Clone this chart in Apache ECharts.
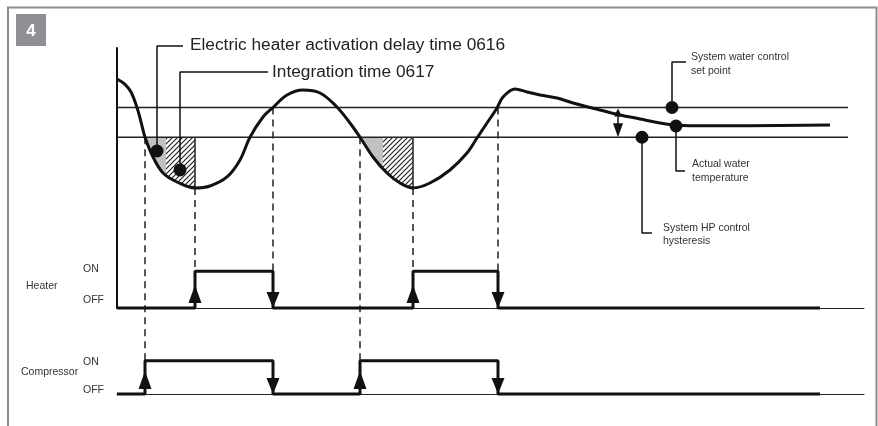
<!DOCTYPE html>
<html lang="en">
<head>
<meta charset="UTF-8">
<title>heater control</title>
<script src="https://cdn.jsdelivr.net/npm/echarts@6/dist/echarts.min.js"></script>
<style>
    html, body { margin: 0; padding: 0; background: #fff; }
    #main { width: 878px; height: 426px; }
</style>
</head>
<body>
<div id="main"></div>
<script>
// ---- data (time in s, temperature in °C, state 0 = OFF / 1 = ON) ----
var timeMax = 747;
var tempMin = 11.3, tempMax = 55;
var setPoint = 45;
var hysteresis = 5;
var lineEnd = 731;

var curveTime = [0, 8, 14, 20, 24, 28, 36, 46, 60, 78, 93, 110, 123, 133, 146, 156, 170, 186, 203, 219, 233, 243, 256, 270, 283, 296, 313, 333, 350, 360, 370, 380, 386, 398, 410, 423, 440, 456, 483, 503, 523, 543, 558, 573, 630, 713];
var curveTemp = [49.79, 48.9, 47.6, 45.0, 42.6, 40.0, 36.68, 33.99, 32.48, 31.47, 31.81, 33.32, 36.18, 40.0, 43.4, 45.0, 47.1, 47.94, 47.44, 45.25, 42.4, 40.0, 36.68, 33.99, 32.31, 31.47, 32.31, 34.5, 37.35, 39.87, 42.39, 44.92, 46.76, 48.11, 47.61, 47.1, 46.6, 45.76, 44.58, 43.74, 43.07, 42.39, 42.06, 41.95, 41.95, 42.05];

var heaterTime  = [0, 78, 78, 156, 156, 296, 296, 381, 381, 703];
var heaterState = [0, 0, 1, 1, 0, 0, 1, 1, 0, 0];
var compTime    = [0, 28, 28, 156, 156, 243, 243, 381, 381, 703];
var compState   = [0, 0, 1, 1, 0, 0, 1, 1, 0, 0];

// delay (grey) and integration (hatched) windows
var delayRanges = [[28, 49], [243, 266]];
var integRanges = [[49, 78], [266, 296]];

// dashed links: time, temperature where it starts, track it reaches (1 heater, 2 compressor)
var dashTime  = [28, 78, 156, 243, 296, 381];
var dashTemp  = [40, 31.47, 45, 40, 31.47, 45];
var dashTrack = [2, 1, 1, 2, 1, 1];

var dotPoints = [[40, 37.69], [63, 34.5], [555, 45], [559, 41.89], [525, 40]];
var leaders = [
    [[40, 37.69], [40, 55.34], [66, 55.34]],
    [[63, 34.5], [63, 50.97], [151, 50.97]],
    [[555, 45], [555, 52.65], [569, 52.65]],
    [[559, 41.89], [559, 34.33], [568, 34.33]],
    [[525, 40], [525, 23.91], [535, 23.91]]
];
var hystArrowTime = 501;

// ---- layout ----
var FONT = '"Liberation Sans", Arial, sans-serif';
var plotLeft = 117, plotTop = 48, tempHeight = 260;
var pxPerDeg = tempHeight / (tempMax - tempMin);
var lowLine = setPoint - hysteresis;

function zip(a, b) { return a.map(function (v, i) { return [v, b[i]]; }); }
var curveData = zip(curveTime, curveTemp);

function hatchCanvas() {
    var c = document.createElement('canvas');
    c.width = 5; c.height = 5;
    var g = c.getContext('2d');
    g.fillStyle = '#fff'; g.fillRect(0, 0, 5, 5);
    g.strokeStyle = '#222'; g.lineWidth = 1.2;
    g.beginPath();
    g.moveTo(-1, 6); g.lineTo(6, -1);
    g.moveTo(-1, 1); g.lineTo(1, -1);
    g.moveTo(4, 6); g.lineTo(6, 4);
    g.stroke();
    return c;
}

var grids = [
    {left: plotLeft, top: plotTop, width: timeMax, height: tempHeight},
    {left: plotLeft, top: 253, width: timeMax, height: 55},
    {left: plotLeft, top: 344, width: timeMax, height: 50}
];
var xAxes = [], yAxes = [];
function hiddenAxis(i, min, max) {
    return {gridIndex: i, type: 'value', min: min, max: max, show: false, splitLine: {show: false}};
}
function stateLabels(onPad, offPad) {
    return {
        show: true, align: 'left', margin: 34, color: '#333', fontSize: 10.5, fontFamily: FONT,
        formatter: function (v) { return v === 0 ? '{off|OFF}' : (v === 1 ? '{on|ON}' : ''); },
        rich: {
            on: {padding: onPad, fontSize: 10.5, color: '#333', fontFamily: FONT},
            off: {padding: offPad, fontSize: 10.5, color: '#333', fontFamily: FONT}
        }
    };
}
xAxes.push(hiddenAxis(0, 0, timeMax));
yAxes.push({
    gridIndex: 0, type: 'value', min: tempMin, max: tempMax,
    axisLine: {show: true, lineStyle: {color: '#111', width: 2}},
    axisTick: {show: false}, axisLabel: {show: false}, splitLine: {show: false}
});
[1, 2].forEach(function (i) {
    xAxes.push({
        gridIndex: i, type: 'value', min: 0, max: timeMax,
        axisLine: {show: true, lineStyle: {color: '#222', width: 1}},
        axisTick: {show: false}, axisLabel: {show: false}, splitLine: {show: false}
    });
    yAxes.push({
        gridIndex: i, type: 'value', min: 0, max: 1.5, interval: 1,
        axisLine: {show: false}, axisTick: {show: false}, splitLine: {show: false},
        axisLabel: i === 1 ? stateLabels([0, 0, 4, 0], [0, 0, 15, 0]) : stateLabels([2, 0, 0, 0], [0, 0, 7, 0])
    });
});

var series = [];
var hatch = {image: hatchCanvas(), repeat: 'repeat'};
function addShade(range, color) {
    var i = grids.length;
    grids.push({
        left: plotLeft + range[0], width: range[1] - range[0],
        top: plotTop + (tempMax - lowLine) * pxPerDeg, height: (lowLine - tempMin) * pxPerDeg
    });
    xAxes.push(hiddenAxis(i, range[0], range[1]));
    yAxes.push(hiddenAxis(i, tempMin, lowLine));
    series.push({
        type: 'line', xAxisIndex: i, yAxisIndex: i, data: curveData, smooth: 0.35,
        symbol: 'none', silent: true, z: 1,
        lineStyle: {width: 0, opacity: 0},
        areaStyle: {color: color, opacity: 1, origin: 'end'}
    });
}
delayRanges.forEach(function (r) { addShade(r, '#c0c1c3'); });
integRanges.forEach(function (r) { addShade(r, hatch); });

// set point and hysteresis lines
[setPoint, lowLine].forEach(function (v) {
    series.push({
        type: 'line', xAxisIndex: 0, yAxisIndex: 0, data: [[0, v], [lineEnd, v]],
        symbol: 'none', silent: true, z: 2, lineStyle: {color: '#222', width: 1.5}
    });
});

// edges of the integration windows
series.push({
    type: 'custom', xAxisIndex: 0, yAxisIndex: 0, silent: true, z: 2,
    data: integRanges.map(function (r, k) { return [r[1], lowLine, dashTemp[k === 0 ? 1 : 4]]; }),
    renderItem: function (p, api) {
        var a = api.coord([api.value(0), api.value(1)]);
        var b = api.coord([api.value(0), api.value(2)]);
        return {type: 'line', shape: {x1: a[0], y1: a[1], x2: b[0], y2: b[1]}, style: {stroke: '#222', lineWidth: 1.5}};
    }
});

// dashed links to the heater / compressor tracks
series.push({
    type: 'custom', xAxisIndex: 0, yAxisIndex: 0, silent: true, z: 2,
    data: dashTime.map(function (t, i) { return [t, dashTemp[i], dashTrack[i]]; }),
    renderItem: function (p, api) {
        var t = api.value(0);
        var a = api.coord([t, api.value(1)]);
        var k = api.value(2);
        var b = chart.convertToPixel({xAxisIndex: k, yAxisIndex: k}, [t, 1]);
        if (!b) return;
        return {type: 'line', shape: {x1: a[0], y1: a[1], x2: b[0], y2: b[1]},
                style: {stroke: '#222', lineWidth: 1.5, lineDash: [7, 5]}};
    }
});

// temperature curve
series.push({
    type: 'line', xAxisIndex: 0, yAxisIndex: 0, data: curveData, smooth: 0.35,
    symbol: 'none', silent: true, z: 4, lineStyle: {color: '#111', width: 3}
});

// hysteresis double arrow
series.push({
    type: 'custom', xAxisIndex: 0, yAxisIndex: 0, silent: true, z: 4,
    data: [[hystArrowTime, setPoint, lowLine]],
    renderItem: function (p, api) {
        var a = api.coord([api.value(0), api.value(1)]);
        var b = api.coord([api.value(0), api.value(2)]);
        return {type: 'group', children: [
            {type: 'line', shape: {x1: a[0], y1: a[1] + 5, x2: b[0], y2: b[1] - 10}, style: {stroke: '#111', lineWidth: 1.5}},
            {type: 'polygon', shape: {points: [[a[0], a[1] + 1], [a[0] - 4, a[1] + 9], [a[0] + 4, a[1] + 9]]}, style: {fill: '#111'}},
            {type: 'polygon', shape: {points: [[b[0], b[1]], [b[0] - 5, b[1] - 14], [b[0] + 5, b[1] - 14]]}, style: {fill: '#111'}}
        ]};
    }
});

// leader lines and dots
leaders.forEach(function (pts) {
    series.push({
        type: 'line', xAxisIndex: 0, yAxisIndex: 0, data: pts, clip: false,
        symbol: 'none', silent: true, z: 5, lineStyle: {color: '#111', width: 1.5}
    });
});
series.push({
    type: 'scatter', xAxisIndex: 0, yAxisIndex: 0, data: dotPoints, clip: false,
    symbolSize: 13, silent: true, z: 6, itemStyle: {color: '#111', opacity: 1}
});

// heater and compressor signals with edge arrows
function addSignal(i, times, states) {
    series.push({
        type: 'line', xAxisIndex: i, yAxisIndex: i, data: zip(times, states), clip: false,
        symbol: 'none', silent: true, z: 3, lineStyle: {color: '#111', width: 3}
    });
    var up = [], down = [];
    for (var k = 1; k < times.length; k++) {
        if (times[k] === times[k - 1] && states[k] !== states[k - 1]) {
            (states[k] > states[k - 1] ? up : down).push([times[k], 0]);
        }
    }
    series.push({
        type: 'scatter', xAxisIndex: i, yAxisIndex: i, data: up, clip: false, silent: true, z: 4,
        symbol: 'triangle', symbolSize: [13, 18], symbolOffset: [0, -14], itemStyle: {color: '#111', opacity: 1}
    });
    series.push({
        type: 'scatter', xAxisIndex: i, yAxisIndex: i, data: down, clip: false, silent: true, z: 4,
        symbol: 'triangle', symbolRotate: 180, symbolSize: [13, 16], symbolOffset: [0, -8], itemStyle: {color: '#111', opacity: 1}
    });
}
addSignal(1, heaterTime, heaterState);
addSignal(2, compTime, compState);

grids.forEach(function (g) { g.containLabel = false; g.outerBoundsMode = 'none'; });

// ---- text and frame ----
var notes = [
    ['Electric heater activation delay time 0616', 190, 45, 17.3, '#222'],
    ['Integration time 0617', 272, 72, 17.3, '#222'],
    ['System water control', 691, 57, 10.5, '#333'],
    ['set point', 691, 71, 10.5, '#333'],
    ['Actual water', 692, 164, 10.5, '#333'],
    ['temperature', 692, 178, 10.5, '#333'],
    ['System HP control', 663, 228, 10.5, '#333'],
    ['hysteresis', 663, 241, 10.5, '#333'],
    ['Heater', 26, 286, 10.5, '#333'],
    ['Compressor', 21, 372, 10.5, '#333']
];
var graphics = [
    {type: 'polyline', silent: true, shape: {points: [[8, 440], [8, 7.5], [876.5, 7.5], [876.5, 440]]},
     style: {stroke: '#8c8c8c', lineWidth: 2, fill: 'none'}},
    {type: 'rect', silent: true, shape: {x: 16, y: 14, width: 30, height: 32}, style: {fill: '#8e9094'}},
    {type: 'text', silent: true, x: 31, y: 31, style: {text: '4', fill: '#fff', font: 'bold 17px ' + FONT, align: 'center', verticalAlign: 'middle'}}
];
notes.forEach(function (n) {
    graphics.push({type: 'text', silent: true, x: n[1], y: n[2],
        style: {text: n[0], fill: n[4], font: n[3] + 'px ' + FONT, align: 'left', verticalAlign: 'middle'}});
});

var chart = echarts.init(document.getElementById('main'));
chart.setOption({
    animation: false,
    backgroundColor: '#fff',
    grid: grids,
    xAxis: xAxes,
    yAxis: yAxes,
    series: series,
    graphic: graphics
});
</script>
</body>
</html>
